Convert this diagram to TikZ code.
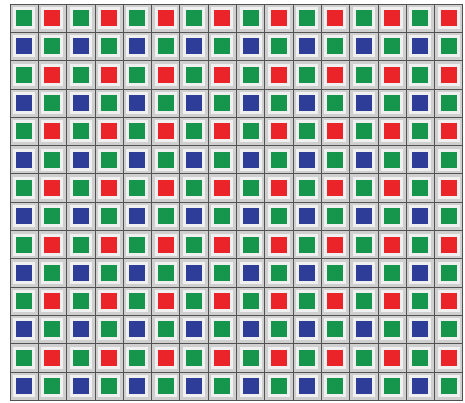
\documentclass[tikz,border=0pt]{standalone}
\usepackage{tikz}
\usetikzlibrary{positioning}

\definecolor{pixgreen}{RGB}{22,150,76}
\definecolor{pixred}{RGB}{234,36,40}
\definecolor{pixblue}{RGB}{46,62,152}

\begin{document}
\begin{tikzpicture}[
    x=1pt, y=-1pt,
    cell/.style={rectangle, draw=black!68, fill=black!19, line width=0.7pt,
        minimum size=28.3pt, inner sep=0pt},
    pix/.style={rectangle, minimum size=16pt, inner sep=0pt,
        preaction={draw=black!6, line width=6pt}},
    gpix/.style={pix, fill=pixgreen},
    rpix/.style={pix, fill=pixred},
    bpix/.style={pix, fill=pixblue}
]

\useasboundingbox (0,0) rectangle (465,403);

% sensor cells, 16 columns x 14 rows
\foreach \r in {0,...,13} {
    \foreach \c in {0,...,15} {
        \node[cell] (cell-\r-\c) at ({24.15+28.3*\c},{18.15+28.3*\r}) {};
    }
}

% Bayer filter: G R on even rows, B G on odd rows
\foreach \r in {0,2,...,12} {
    \foreach \c in {0,2,...,14} {
        \pgfmathtruncatemacro{\n}{\c+1}
        \pgfmathtruncatemacro{\m}{\r+1}
        \node[gpix] (g-\r-\c) at (cell-\r-\c) {};
        \node[rpix] (r-\r-\n) at (cell-\r-\n) {};
        \node[bpix] (b-\m-\c) at (cell-\m-\c) {};
        \node[gpix] (g-\m-\n) at (cell-\m-\n) {};
    }
}

\end{tikzpicture}
\end{document}
